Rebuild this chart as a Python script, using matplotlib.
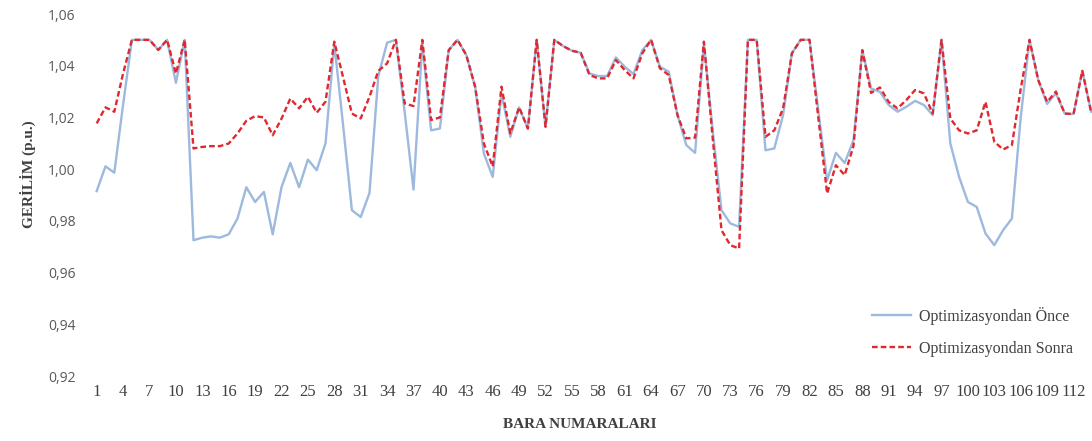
import numpy as np
import matplotlib
matplotlib.use('Agg')
import matplotlib.pyplot as plt

# bus voltages (p.u.)
bara = np.arange(1, 115)

once = [0.9915, 1.0011, 0.9986, 1.025, 1.05, 1.05, 1.05, 1.0461, 1.05, 1.0334,
        1.05, 0.9725, 0.9735, 0.974, 0.9735, 0.9748, 0.9809, 0.993, 0.9873, 0.9912,
        0.9748, 0.993, 1.0024, 0.993, 1.0037, 0.9996, 1.01, 1.0486, 1.017, 0.9841,
        0.9815, 0.9908, 1.036, 1.0489, 1.05, 1.022, 0.9921, 1.0486, 1.015, 1.0157,
        1.046, 1.05, 1.0441, 1.0319, 1.006, 0.997, 1.0293, 1.0125, 1.0239, 1.0157,
        1.05, 1.0164, 1.05, 1.0476, 1.0458, 1.045, 1.037, 1.036, 1.036, 1.0432,
        1.0396, 1.0368, 1.046, 1.05, 1.0396, 1.0377, 1.0209, 1.0093, 1.0063, 1.0486,
        1.015, 0.9841, 0.979, 0.9777, 1.05, 1.05, 1.0073, 1.008, 1.0209, 1.0448,
        1.05, 1.05, 1.0228, 0.9957, 1.0063, 1.0024, 1.0112, 1.046, 1.0312, 1.0299,
        1.0248, 1.0222, 1.0241, 1.0264, 1.0248, 1.0209, 1.05, 1.01, 0.997, 0.9873,
        0.9854, 0.9751, 0.9706, 0.9764, 0.9809, 1.02, 1.05, 1.0344, 1.0252, 1.0293,
        1.0215, 1.0213, 1.038, 1.0222]

sonra = [1.0177, 1.0239, 1.0222, 1.037, 1.05, 1.05, 1.05, 1.0461, 1.05, 1.037,
         1.05, 1.008, 1.0086, 1.0089, 1.0089, 1.0099, 1.0138, 1.0187, 1.0205, 1.02,
         1.0131, 1.0195, 1.0273, 1.0235, 1.028, 1.0218, 1.0261, 1.0493, 1.0355, 1.0215,
         1.0196, 1.028, 1.038, 1.0409, 1.05, 1.0254, 1.0244, 1.05, 1.019, 1.02,
         1.046, 1.05, 1.0441, 1.0319, 1.0099, 1.001, 1.0319, 1.0138, 1.0239, 1.0157,
         1.05, 1.0164, 1.05, 1.0476, 1.0458, 1.045, 1.0364, 1.0351, 1.0351, 1.0422,
         1.0383, 1.0351, 1.0448, 1.05, 1.039, 1.0364, 1.0209, 1.0119, 1.0122, 1.0493,
         1.012, 0.9764, 0.9706, 0.9693, 1.05, 1.05, 1.0125, 1.015, 1.0235, 1.0448,
         1.05, 1.05, 1.02, 0.9906, 1.0015, 0.9977, 1.009, 1.046, 1.0295, 1.0316,
         1.026, 1.0235, 1.0267, 1.0306, 1.0293, 1.0215, 1.05, 1.0196, 1.015, 1.0138,
         1.015, 1.026, 1.0106, 1.0076, 1.0093, 1.031, 1.05, 1.0344, 1.026, 1.03,
         1.0215, 1.0213, 1.038, 1.0222]

xticks = np.arange(1, 113, 3)
yticks = [0.92, 0.94, 0.96, 0.98, 1.00, 1.02, 1.04, 1.06]

fig = plt.figure(figsize=(10.92, 4.41), dpi=100)
ax = fig.add_axes([92.3 / 1092, 1 - 376 / 441, 1 - 92.3 / 1092, (376 - 14) / 441])

ax.plot(bara, once, color='#9DB9DE', lw=1.7, label='Optimizasyondan Önce')
ax.plot(bara, sonra, color='#E0282E', lw=1.7, ls=(0, (2.4, 1.3)),
        label='Optimizasyondan Sonra')

ax.set_xlim(0.5, 0.5 + (1092 - 92.3) / 8.8)
ax.set_ylim(0.92, 1.06)

ax.set_xticks(xticks)
ax.set_xticklabels([str(t) for t in xticks], family='Liberation Serif',
                   fontsize=12, color='#404040')
ax.set_yticks(yticks)
ax.set_yticklabels([f'{t:.2f}'.replace('.', ',') for t in yticks],
                   family='Open Sans', fontsize=10, color='#595959')
ax.tick_params(axis='both', length=0)
ax.tick_params(axis='y', pad=12)
ax.tick_params(axis='x', pad=6)

for s in ax.spines.values():
    s.set_visible(False)

fig.text(28 / 1092, 1 - 174 / 441, 'GERİLİM (p.u.)', rotation=90,
         ha='center', va='center', family='Liberation Serif',
         fontweight='bold', fontsize=11, color='#404040')
fig.text(580 / 1092, 1 - 425 / 441, 'BARA NUMARALARI', ha='center', va='center',
         family='Liberation Serif', fontweight='bold', fontsize=11, color='#404040')

leg = ax.legend(loc='center left', bbox_to_anchor=(858 / 1092, 1 - 332 / 441),
                bbox_transform=fig.transFigure, frameon=False,
                prop={'family': 'Liberation Serif', 'size': 11.5},
                handlelength=2.4, labelspacing=1.0, handletextpad=0.5)
for t in leg.get_texts():
    t.set_color('#404040')

plt.savefig('out.png', dpi=100)
